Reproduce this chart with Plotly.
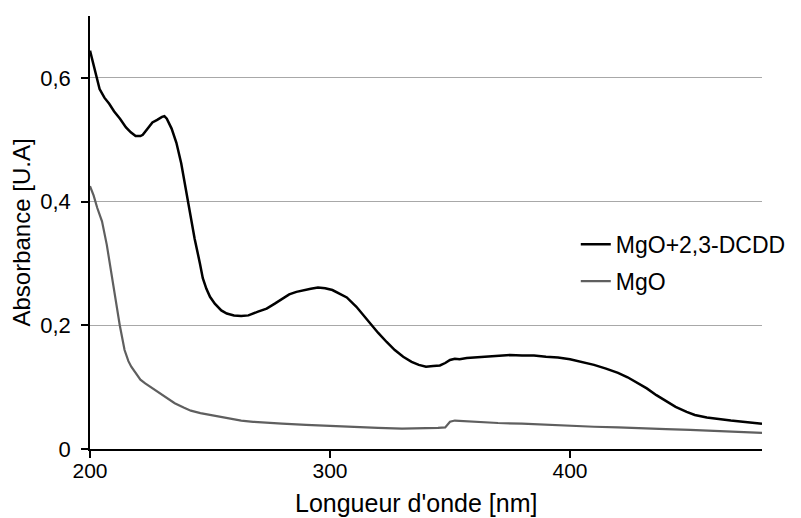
import plotly.graph_objects as go

# MgO + 2,3-DCDD (black)
wl_dcdd = [200, 202, 204, 206, 208, 210, 212.5, 215, 217, 219, 221, 222, 224, 226, 228, 230, 231,
           232, 234, 236, 238, 239, 240.8, 242.5, 243.6, 245.8, 247, 248.5, 250, 252, 254.7, 257,
           260, 263, 266, 270, 273.6, 277, 280, 283, 286, 289, 292, 295, 298, 301, 304, 307, 311,
           314, 316.7, 320, 323.6, 327, 330.5, 334, 337, 340, 343, 345.8, 348, 350, 352, 354, 357, 360,
           365, 370, 375, 380, 385, 390, 395, 400, 405, 410, 415, 420, 424, 428, 432, 436, 440, 444,
           448.6, 452, 457, 462, 467, 472, 476, 480]
abs_dcdd = [0.644, 0.615, 0.582, 0.568, 0.558, 0.546, 0.534, 0.520, 0.512, 0.506, 0.506, 0.508,
            0.518, 0.528, 0.532, 0.537, 0.538, 0.534, 0.518, 0.495, 0.462, 0.440, 0.400, 0.362,
            0.340, 0.300, 0.276, 0.259, 0.246, 0.235, 0.224, 0.219, 0.216, 0.215, 0.216, 0.222,
            0.227, 0.235, 0.243, 0.250, 0.254, 0.257, 0.259, 0.261, 0.260, 0.257, 0.251, 0.245,
            0.230, 0.216, 0.203, 0.188, 0.173, 0.160, 0.149, 0.141, 0.136, 0.133, 0.134, 0.135,
            0.139, 0.144, 0.146, 0.145, 0.147, 0.148, 0.149, 0.151, 0.152, 0.151, 0.151, 0.149, 0.148,
            0.145, 0.141, 0.136, 0.130, 0.123, 0.116, 0.107, 0.098, 0.087, 0.077, 0.068, 0.060,
            0.055, 0.051, 0.048, 0.046, 0.044, 0.042, 0.041]

# MgO (grey)
wl_mgo = [200, 201.5, 203, 205, 207, 208.2, 210.3, 212.4, 214.4, 216, 217.2, 219, 221, 223, 226,
          228.3, 232, 235.3, 239, 242, 246, 250, 254, 258, 263, 268, 274, 280, 290, 300, 310, 320,
          330, 340, 345, 348, 350, 352, 356, 360, 370, 380, 390, 400, 410, 420, 430, 440, 450, 460,
          470, 480]
abs_mgo = [0.425, 0.410, 0.390, 0.368, 0.330, 0.300, 0.246, 0.200, 0.160, 0.142, 0.133, 0.122,
           0.112, 0.106, 0.098, 0.092, 0.082, 0.074, 0.067, 0.062, 0.058, 0.055, 0.052, 0.049,
           0.046, 0.044, 0.042, 0.041, 0.039, 0.037, 0.035, 0.034, 0.033, 0.033, 0.034, 0.035,
           0.044, 0.046, 0.045, 0.044, 0.042, 0.041, 0.039, 0.038, 0.036, 0.035, 0.033, 0.032,
           0.031, 0.029, 0.027, 0.026]

series_names = ["MgO+2,3-DCDD", "MgO"]
x_ticks = [200, 300, 400]
y_ticks = [0, 0.2, 0.4, 0.6]
y_ticktext = ["0", "0,2", "0,4", "0,6"]
x_title = "Longueur d'onde [nm]"
y_title = "Absorbance [U.A]"

FONT = "Liberation Sans, Arial, sans-serif"

fig = go.Figure()
fig.add_trace(go.Scatter(x=wl_dcdd, y=abs_dcdd, mode="lines", name=series_names[0],
                         legendgroup="a", line=dict(color="#000000", width=2.5)))
fig.add_trace(go.Scatter(x=wl_mgo, y=abs_mgo, mode="lines", name=series_names[1],
                         legendgroup="b", line=dict(color="#5f5f5f", width=2.2)))

# the page body adds an 8px offset, so the figure is 8px smaller than the window
fig.update_layout(
    width=793, height=510,
    margin=dict(l=82, r=39, t=8, b=69, autoexpand=False),
    paper_bgcolor="white", plot_bgcolor="white",
    font=dict(family=FONT, color="#000000", size=22),
    showlegend=True,
    legend=dict(xref="container", yref="container", x=0.716, y=0.579,
                xanchor="left", yanchor="top", bgcolor="rgba(0,0,0,0)",
                font=dict(family=FONT, size=23),
                tracegroupgap=4, itemwidth=30),
    xaxis=dict(range=[200, 480], tickvals=x_ticks, showline=True, linecolor="#000000",
               linewidth=1.5, ticks="outside", ticklen=7, tickcolor="#000000", tickwidth=1.5,
               showgrid=False, zeroline=False, ticklabelstandoff=-5,
               tickfont=dict(size=21)),
    yaxis=dict(range=[0, 0.7], tickvals=y_ticks, ticktext=y_ticktext, showline=True,
               linecolor="#000000", linewidth=1.5, ticks="outside", ticklen=7,
               tickcolor="#000000", tickwidth=1.5, showgrid=True, gridcolor="#a8a8a8",
               gridwidth=1, zeroline=False, ticklabelstandoff=6,
               tickfont=dict(size=22),
               title=dict(text=y_title, font=dict(family=FONT, size=24), standoff=3)),
    annotations=[dict(text=x_title, xref="paper", yref="paper", x=0.485, y=-0.125,
                      xanchor="center", yanchor="middle", showarrow=False,
                      font=dict(family=FONT, size=25, color="#000000"))],
)

fig.write_html("out.html")
